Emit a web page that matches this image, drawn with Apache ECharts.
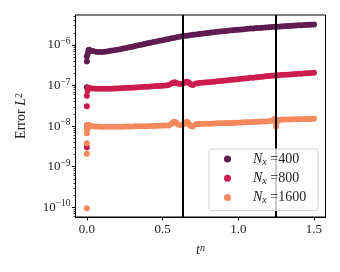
<!DOCTYPE html>
<html><head><meta charset="utf-8">
<script src="https://cdn.jsdelivr.net/npm/echarts@6/dist/echarts.min.js"></script>
<style>html,body{margin:0;padding:0;background:#fff}#c{width:340px;height:272px}</style>
</head><body><div id="c"></div>
<script>
// time grid shared by the main part of each series
const tGrid = [0.02,0.04,0.06,0.08,0.10,0.12,0.14,0.16,0.18,0.20,0.22,0.24,0.26,0.28,0.30,0.32,0.34,0.36,0.38,0.40,
  0.42,0.44,0.46,0.48,0.50,0.52,0.54,0.56,0.58,0.60,0.62,0.64,0.66,0.68,0.70,0.72,0.74,0.76,0.78,0.80,
  0.82,0.84,0.86,0.88,0.90,0.92,0.94,0.96,0.98,1.00,1.02,1.04,1.06,1.08,1.10,1.12,1.14,1.16,1.18,1.20,
  1.22,1.24,1.26,1.28,1.30,1.32,1.34,1.36,1.38,1.40,1.42,1.44,1.46,1.48,1.50];
// extra points: early transient and wiggles (t, error)
const extraT400 = [0, 0, 0, 0.005, 0.01, 0.015];
const extraE400 = [5.2e-7, 3.9e-7, 9.1e-8, 6.0e-7, 7.4e-7, 7.6e-7];
const extraT800 = [0, 0, 0, 0.005, 0.01, 0.015, 0.57, 0.59, 0.65, 0.67, 0.69];
const extraE800 = [5.6e-8, 3.1e-8, 3.0e-9, 7.5e-8, 8.8e-8, 8.6e-8, 1.17e-7, 1.16e-7, 1.21e-7, 1.20e-7, 1.06e-7];
const extraT1600 = [0, 0, 0, 0, 0, 0, 0.005, 0.01, 0.015, 0.57, 0.59, 0.65, 0.67, 0.69, 1.245, 1.25, 1.255];
const extraE1600 = [9.5e-11, 2.1e-9, 3.8e-9, 6.7e-9, 8.9e-9, 1.07e-8, 8.5e-9, 1.0e-8, 1.05e-8,
  1.24e-8, 1.20e-8, 1.22e-8, 1.20e-8, 1.0e-8, 1.25e-8, 9.8e-9, 1.25e-8];
// main values on tGrid
const e400 = [0.72,0.71,0.68,0.67,0.67,0.68,0.70,0.72,0.74,0.76,0.79,0.82,0.85,0.88,0.91,0.95,0.98,1.02,1.06,1.10,
  1.14,1.18,1.22,1.27,1.31,1.36,1.41,1.46,1.52,1.57,1.62,1.66,1.70,1.74,1.78,1.82,1.86,1.90,1.95,1.99,
  2.03,2.07,2.11,2.15,2.19,2.23,2.27,2.31,2.35,2.39,2.43,2.46,2.50,2.54,2.57,2.61,2.64,2.68,2.71,2.75,
  2.78,2.81,2.84,2.87,2.90,2.93,2.96,2.99,3.02,3.05,3.08,3.11,3.14,3.17,3.20]; // x1e-6
const e800 = [0.86,0.85,0.84,0.83,0.83,0.83,0.84,0.84,0.85,0.85,0.86,0.87,0.87,0.88,0.89,0.90,0.91,0.92,0.93,0.94,
  0.95,0.96,0.97,0.98,0.99,1.01,1.03,1.12,1.20,1.12,1.10,1.15,1.25,1.12,1.03,1.13,1.15,1.17,1.19,1.21,
  1.23,1.25,1.27,1.30,1.32,1.34,1.37,1.39,1.42,1.44,1.47,1.49,1.52,1.55,1.57,1.60,1.63,1.66,1.69,1.72,
  1.75,1.78,1.80,1.82,1.84,1.86,1.88,1.91,1.93,1.95,1.97,2.00,2.02,2.04,2.07]; // x1e-7
const e1600 = [1.03,1.00,0.98,0.97,0.96,0.96,0.96,0.96,0.97,0.97,0.97,0.97,0.98,0.98,0.98,0.99,0.99,0.99,1.00,1.00,
  1.01,1.01,1.02,1.02,1.03,1.03,1.03,1.15,1.29,1.12,1.05,1.12,1.29,1.05,0.98,1.12,1.13,1.13,1.14,1.15,
  1.15,1.16,1.17,1.17,1.18,1.19,1.19,1.20,1.21,1.22,1.23,1.24,1.25,1.26,1.27,1.28,1.29,1.30,1.31,1.32,
  1.36,1.50,1.42,1.44,1.45,1.45,1.46,1.47,1.47,1.48,1.49,1.49,1.50,1.51,1.52]; // x1e-8
const seriesNames = ['400', '800', '1600'];
const colors = ['#5e1c51', '#cc1c4f', '#f5885c'];
const vLines = [0.625, 1.25];
const xTicks = [0, 0.5, 1.0, 1.5];
const yDecades = [-10, -9, -8, -7, -6];

const yMin = Math.pow(10, -10.24), yMax = Math.pow(10, -5.26);
const majorVals = yDecades.map(e => Math.pow(10, e));
const minorVals = [];
for (let e = -11; e <= -5; e++) for (let k = 2; k <= 9; k++) {
  const v = k * Math.pow(10, e);
  if (v > yMin && v < yMax) minorVals.push(v);
}
function pairs(extraT, extraE, grid, vals, scale) {
  const out = extraT.map((t, i) => [t, extraE[i]]);
  grid.forEach((t, i) => out.push([t, vals[i] * scale]));
  return out;
}
const datasets = [
  pairs(extraT400, extraE400, tGrid, e400, 1e-6),
  pairs(extraT800, extraE800, tGrid, e800, 1e-7),
  pairs(extraT1600, extraE1600, tGrid, e1600, 1e-8)
];
const serif = 'Liberation Serif';
const chart = echarts.init(document.getElementById('c'));
const series = datasets.map((d, i) => ({
  name: seriesNames[i], type: 'scatter', data: d, symbolSize: 6,
  itemStyle: {color: colors[i], opacity: 1}, z: 2, animation: false
}));
series.push({
  type: 'scatter', data: [], z: 3, animation: false,
  markLine: {symbol: 'none', silent: true, animation: false, z: 3,
    label: {show: false},
    lineStyle: {color: '#000', width: 2, type: 'solid'},
    data: vLines.map(v => ({xAxis: v}))}
});
chart.setOption({
  animation: false,
  grid: {left: 75.5, right: 14.5, top: 15, bottom: 55, show: true, borderColor: '#000', borderWidth: 1, outerBoundsMode: 'none', containLabel: false},
  xAxis: {
    type: 'value', min: -0.075, max: 1.576,
    name: '{i|t}{s|n}', nameLocation: 'middle', nameGap: 26,
    nameTextStyle: {rich: {i: {fontFamily: serif, fontStyle: 'italic', fontSize: 14, color: '#222'},
      s: {fontFamily: serif, fontStyle: 'italic', fontSize: 10, verticalAlign: 'top', color: '#222'}}},
    axisLine: {show: true, onZero: false, lineStyle: {color: '#000', width: 1}},
    axisTick: {show: true, length: 3.5, inside: false, customValues: xTicks, lineStyle: {color: '#000'}},
    axisLabel: {customValues: xTicks, formatter: v => v.toFixed(1), fontFamily: serif, fontSize: 13, color: '#222', margin: 6},
    splitLine: {show: false}
  },
  yAxis: [{
    type: 'log', min: yMin, max: yMax, logBase: 10,
    name: '{a|Error }{i|L}{s|2}', nameLocation: 'middle', nameGap: 47,
    nameTextStyle: {rich: {a: {fontFamily: serif, fontSize: 14, color: '#222'},
      i: {fontFamily: serif, fontStyle: 'italic', fontSize: 14, color: '#222'},
      s: {fontFamily: serif, fontSize: 10, verticalAlign: 'top', color: '#222'}}},
    axisLine: {show: true, onZero: false, lineStyle: {color: '#000', width: 1}},
    axisTick: {show: true, length: 3.5, customValues: majorVals, lineStyle: {color: '#000'}},
    axisLabel: {customValues: majorVals, margin: 5,
      formatter: v => '{b|10}{s|' + String(Math.round(Math.log10(v))).replace('-', '−') + '}',
      rich: {b: {fontFamily: serif, fontSize: 13, color: '#222'},
        s: {fontFamily: serif, fontSize: 9.5, color: '#222', verticalAlign: 'top', padding: [0, 0, 7, 0]}}},
    splitLine: {show: false}
  }, {
    type: 'log', min: yMin, max: yMax, logBase: 10, position: 'left',
    axisLine: {show: false, onZero: false},
    axisTick: {show: true, length: 2, customValues: minorVals, lineStyle: {color: '#000', width: 0.8}},
    axisLabel: {show: false}, splitLine: {show: false}
  }],
  legend: {
    left: 209, top: 149, orient: 'vertical', itemWidth: 7, itemHeight: 7, itemGap: 3.3, z: 20, zlevel: 1,
    padding: [2, 12, 5, 15], icon: 'circle',
    backgroundColor: 'rgba(255,255,255,0.8)', borderColor: '#d0d0d0', borderWidth: 1, borderRadius: 3,
    data: seriesNames,
    formatter: n => '{n|N}{x|x}{t| =' + n + '}',
    textStyle: {padding: [0, 0, 0, 17], rich: {
      n: {fontFamily: serif, fontStyle: 'italic', fontSize: 14, lineHeight: 16, color: '#222'},
      x: {fontFamily: serif, fontStyle: 'italic', fontSize: 10, color: '#222', verticalAlign: 'bottom', lineHeight: 16, padding: [6, 0, 0, 0]},
      t: {fontFamily: serif, fontSize: 14, lineHeight: 16, color: '#222'}}}
  },
  series: series
});
</script></body></html>
